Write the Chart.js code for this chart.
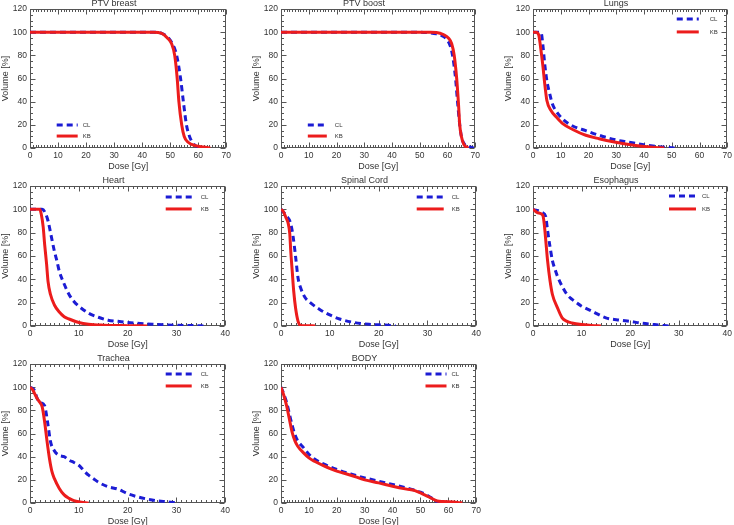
<!DOCTYPE html>
<html>
<head>
<meta charset="utf-8">
<script src="https://cdn.jsdelivr.net/npm/chart.js@4.4.1/dist/chart.umd.min.js"></script>
<style>
  html, body { margin: 0; padding: 0; background: #fff; overflow: hidden; }
  body { width: 734px; height: 525px; position: relative; }
  .panel { position: absolute; }
</style>
</head>
<body>
<script>
// DVH data (dose in Gy, volume in %)
const ptvBreastDoseCL = [0, 44, 47, 49.4, 50.8, 52.3, 53.7, 54.7, 55.8, 56.9, 57.9, 59, 60.8];
const ptvBreastVolCL  = [100, 100, 99, 95, 90, 80, 60, 40, 20, 10, 5, 2, 0];
const ptvBreastDoseKB = [0, 44, 47, 49, 50.5, 51.6, 52.5, 53.1, 54.1, 55, 56.4, 59, 62, 64.3];
const ptvBreastVolKB  = [100, 100, 99, 95, 90, 80, 60, 40, 20, 10, 5, 2, 0.8, 0];

const ptvBoostDoseCL = [0, 50, 53, 56, 58, 60, 61, 61.8, 62.9, 63.6, 64.4, 65, 66.2, 68, 69.5];
const ptvBoostVolCL  = [100, 100, 99.5, 98.5, 97, 93, 88, 80, 60, 40, 20, 10, 3, 1, 0];
const ptvBoostDoseKB = [0, 54, 56, 58.5, 60.3, 61.5, 62.4, 63.3, 63.9, 64.4, 65, 65.9, 67.4];
const ptvBoostVolKB  = [100, 100, 99.8, 98, 95, 90, 80, 60, 40, 20, 10, 3, 0];

const lungsDoseCL = [0, 2.5, 3, 3.6, 4.2, 5, 6, 7, 8.3, 10.7, 14.3, 19, 23.8, 29.8, 34.6, 39.3, 44, 48, 51];
const lungsVolCL  = [100, 100, 99, 88, 73, 58, 47, 38, 32, 25, 19, 15, 11, 7, 5, 3, 1.5, 0.5, 0];
const lungsDoseKB = [0, 1, 2, 3, 3.6, 4.2, 5, 6.6, 8.3, 10.7, 14.3, 19, 23.8, 29.8, 34.6, 39.3, 44, 47.3];
const lungsVolKB  = [100, 100, 98, 82, 70, 56, 41, 32, 27, 21, 16, 11, 8, 5, 3, 1.5, 0.5, 0];

const heartDoseCL = [0, 2.5, 3, 3.7, 4.4, 5, 5.5, 6, 7, 8, 9, 10, 12, 14, 16, 18, 20, 25, 30, 35, 36];
const heartVolCL  = [100, 100, 98, 90, 76, 64, 56, 47, 36, 27, 21, 17, 11, 7.5, 5, 4, 3, 1.5, 0.6, 0.2, 0];
const heartDoseKB = [0, 2, 2.3, 2.7, 3, 3.4, 3.7, 4.2, 5, 6, 7, 8, 10, 12, 15, 20, 24];
const heartVolKB  = [100, 100, 96, 85, 70, 53, 38, 27, 18, 12, 8, 6, 3, 1.5, 0.7, 0.3, 0.1];

const cordDoseCL = [0, 1, 2, 2.5, 3, 3.5, 4, 5, 6, 8, 10, 12, 15, 18, 20, 23, 23.5];
const cordVolCL  = [100, 95, 87.5, 76, 59, 41, 33, 24, 20, 14, 9.5, 6, 3, 1.5, 1, 0.3, 0];
const cordDoseKB = [0, 0.5, 1, 1.5, 1.8, 2, 2.3, 2.6, 3, 3.5, 4, 5, 7];
const cordVolKB  = [100, 98, 93, 87.5, 79, 64, 47, 30, 15, 4, 0.5, 0.3, 0];

const esoDoseCL = [0, 2, 2.6, 3, 3.5, 4, 4.5, 5, 6, 7, 8, 10, 12, 15, 18, 20, 22, 25, 28];
const esoVolCL  = [100, 97, 94, 82, 68, 56, 49, 43, 34, 27, 23, 17, 13, 7, 5, 4, 2.6, 1.2, 0];
const esoDoseKB = [0, 1, 2, 2.3, 2.7, 3, 3.5, 4, 5, 6, 7, 8, 10, 12, 14];
const esoVolKB  = [100, 97, 95, 88, 70, 56, 39, 27, 16, 7, 4, 2.6, 1.2, 0.5, 0];

const tracheaDoseCL = [0, 0.8, 1.5, 2, 3, 3.3, 3.7, 4.2, 5, 6, 7, 8, 9, 10, 11, 12, 13, 14, 16, 18, 20, 22, 25, 28, 30, 30.5];
const tracheaVolCL  = [100, 98, 90, 87, 84, 78, 67, 53, 45, 41, 40, 37, 35, 32.6, 28, 24, 21, 18, 14, 12, 8, 5.4, 2.6, 1.1, 0.3, 0];
const tracheaDoseKB = [0, 0.5, 1, 1.5, 2, 2.5, 3, 3.5, 4, 4.5, 5, 6, 7, 8, 9, 10, 12];
const tracheaVolKB  = [100, 98, 94, 90, 87, 83, 70, 53, 38, 27, 21, 12.6, 7, 4, 2, 1, 0];

const bodyDoseCL = [0, 1, 2, 3, 4, 5, 6, 8, 10, 12, 15, 20, 25, 30, 35, 40, 45, 48, 50, 52, 54, 55, 56, 58, 60, 62];
const bodyVolCL  = [100, 94, 87, 77, 67, 59, 53.6, 48, 42, 38, 34, 29, 25, 21.7, 18.8, 16, 13, 11, 9.3, 7.2, 4.3, 2.3, 1.2, 0.8, 0.5, 0];
const bodyDoseKB = [0, 1, 2, 3, 4, 5, 6, 8, 10, 12, 15, 20, 25, 30, 35, 40, 45, 48, 50, 52, 54, 56, 58, 62, 64, 65];
const bodyVolKB  = [100, 93, 84, 72.5, 61, 53.6, 49, 43.5, 39, 36, 32.5, 27.5, 24, 20, 17.4, 14.5, 12, 10.7, 8.7, 6.4, 4, 1.7, 1.2, 0.9, 0.3, 0];

const seriesNames = ['CL', 'KB'];
const yTicks = [0, 20, 40, 60, 80, 100, 120];

// Layout constants (pixels)
const Y_AXIS_W = 30;
const X_AXIS_H = 24;
const TITLE_H = 10;
const PAD_R = 6;
const FONT = "'Liberation Sans', Arial, sans-serif";

// panel list: chart area box [left, top, right, bottom], legend [fx, fy0, fy1, len, gap]
const panels = [
  { title: 'PTV breast', xMax: 70, area: [30, 9, 228, 148], legend: [0.136, 0.835, 0.914, 21, 5],
    cl: [ptvBreastDoseCL, ptvBreastVolCL], kb: [ptvBreastDoseKB, ptvBreastVolKB] },
  { title: 'PTV boost', xMax: 70, area: [281, 9, 477, 148], legend: [0.138, 0.835, 0.914, 19, 8],
    cl: [ptvBoostDoseCL, ptvBoostVolCL], kb: [ptvBoostDoseKB, ptvBoostVolKB] },
  { title: 'Lungs', xMax: 70, area: [533, 9, 729, 148], legend: [0.74, 0.072, 0.165, 22, 11],
    cl: [lungsDoseCL, lungsVolCL], kb: [lungsDoseKB, lungsVolKB] },
  { title: 'Heart', xMax: 40, area: [30, 186, 227, 326], legend: [0.695, 0.079, 0.164, 26, 9],
    cl: [heartDoseCL, heartVolCL], kb: [heartDoseKB, heartVolKB] },
  { title: 'Spinal Cord', xMax: 40, area: [281, 186, 478, 326], legend: [0.695, 0.079, 0.164, 27, 8],
    cl: [cordDoseCL, cordVolCL], kb: [cordDoseKB, cordVolKB] },
  { title: 'Esophagus', xMax: 40, area: [533, 186, 729, 326], legend: [0.70, 0.072, 0.164, 27, 6],
    cl: [esoDoseCL, esoVolCL], kb: [esoDoseKB, esoVolKB] },
  { title: 'Trachea', xMax: 40, area: [30, 364, 227, 503], legend: [0.695, 0.072, 0.158, 26, 9],
    cl: [tracheaDoseCL, tracheaVolCL], kb: [tracheaDoseKB, tracheaVolKB] },
  { title: 'BODY', xMax: 70, area: [281, 364, 478, 503], legend: [0.74, 0.072, 0.158, 21, 5],
    cl: [bodyDoseCL, bodyVolCL], kb: [bodyDoseKB, bodyVolKB] }
];

// IDL-style frame with inward ticks on all four sides
const idlFrame = {
  id: 'idlFrame',
  beforeDatasetsDraw(chart) {
    const { ctx, chartArea: a, scales: { x, y } } = chart;
    ctx.save();
    ctx.strokeStyle = '#555';
    ctx.lineWidth = 1;
    const L = Math.round(a.left) + 0.5, R = Math.round(a.right) - 0.5;
    const T = Math.round(a.top) + 0.5, B = Math.round(a.bottom) - 0.5;
    ctx.strokeRect(L, T, R - L, B - T);
    ctx.beginPath();
    for (let v = 0; v <= x.max; v += 1) {
      const px = Math.round(x.getPixelForValue(v)) + 0.5;
      const len = v % 10 === 0 ? 5 : 2.5;
      ctx.moveTo(px, B); ctx.lineTo(px, B - len);
      ctx.moveTo(px, T); ctx.lineTo(px, T + len);
    }
    for (let v = 0; v <= y.max; v += 5) {
      const py = Math.round(y.getPixelForValue(v)) + 0.5;
      const len = v % 20 === 0 ? 5 : 2.5;
      ctx.moveTo(L, py); ctx.lineTo(L + len, py);
      ctx.moveTo(R, py); ctx.lineTo(R - len, py);
    }
    ctx.stroke();
    ctx.restore();
  }
};

// small legend drawn inside the plot area
const idlLegend = {
  id: 'idlLegend',
  afterDatasetsDraw(chart, args, opts) {
    const { ctx, chartArea: a } = chart;
    const [fx, fy0, fy1, len, gap] = opts.pos;
    const x0 = a.left + fx * a.width;
    ctx.save();
    chart.data.datasets.forEach((ds, i) => {
      const yy = a.top + (i === 0 ? fy0 : fy1) * a.height;
      ctx.strokeStyle = ds.borderColor;
      ctx.lineWidth = ds.borderWidth;
      ctx.setLineDash(ds.borderDash || []);
      ctx.beginPath();
      ctx.moveTo(x0, yy);
      ctx.lineTo(x0 + len, yy);
      ctx.stroke();
      ctx.setLineDash([]);
      ctx.fillStyle = '#333';
      ctx.font = '6px ' + FONT;
      ctx.textBaseline = 'middle';
      ctx.fillText(ds.label, x0 + len + gap, yy);
    });
    ctx.restore();
  }
};

function toPoints(dose, vol) {
  return dose.map((d, i) => ({ x: d, y: vol[i] }));
}

function makePanel(p) {
  const [l, t, r, b] = p.area;
  const left = l - Y_AXIS_W;
  const top = t - TITLE_H;
  const width = r + PAD_R - left;
  const height = b + X_AXIS_H - top;

  const div = document.createElement('div');
  div.className = 'panel';
  div.style.left = left + 'px';
  div.style.top = top + 'px';
  div.style.width = width + 'px';
  div.style.height = height + 'px';
  const canvas = document.createElement('canvas');
  div.appendChild(canvas);
  document.body.appendChild(div);

  new Chart(canvas, {
    type: 'line',
    data: {
      datasets: [
        {
          label: seriesNames[0],
          data: toPoints(p.cl[0], p.cl[1]),
          borderColor: '#1c1cd4',
          borderWidth: 3,
          borderDash: [6, 4],
          pointRadius: 0,
          cubicInterpolationMode: 'monotone',
          order: 1
        },
        {
          label: seriesNames[1],
          data: toPoints(p.kb[0], p.kb[1]),
          borderColor: '#ec1c1c',
          borderWidth: 3,
          pointRadius: 0,
          cubicInterpolationMode: 'monotone',
          order: 0
        }
      ]
    },
    options: {
      responsive: true,
      maintainAspectRatio: false,
      animation: false,
      layout: { padding: { left: 0, top: 0, right: PAD_R, bottom: 0 } },
      plugins: {
        legend: { display: false },
        tooltip: { enabled: false },
        title: {
          display: true,
          text: p.title,
          color: '#333',
          font: { family: FONT, size: 9, weight: 'normal', lineHeight: 1 },
          padding: { top: 0, bottom: 1 }
        },
        idlLegend: { pos: p.legend }
      },
      scales: {
        x: {
          type: 'linear',
          min: 0,
          max: p.xMax,
          grid: { display: false, drawTicks: false },
          border: { display: false },
          ticks: {
            stepSize: 10,
            padding: 3,
            maxRotation: 0,
            color: '#333',
            font: { family: FONT, size: 8.5 }
          },
          title: {
            display: true,
            text: 'Dose [Gy]',
            color: '#333',
            font: { family: FONT, size: 9 },
            padding: 0
          },
          afterFit: s => { s.height = X_AXIS_H; }
        },
        y: {
          min: yTicks[0],
          max: yTicks[yTicks.length - 1],
          grid: { display: false, drawTicks: false },
          border: { display: false },
          ticks: {
            stepSize: 20,
            padding: 3,
            color: '#333',
            font: { family: FONT, size: 8.5 }
          },
          title: {
            display: true,
            text: 'Volume [%]',
            color: '#333',
            font: { family: FONT, size: 9 },
            padding: 0
          },
          afterFit: s => { s.width = Y_AXIS_W; }
        }
      }
    },
    plugins: [idlFrame, idlLegend]
  });
}

panels.forEach(makePanel);
</script>
</body>
</html>
